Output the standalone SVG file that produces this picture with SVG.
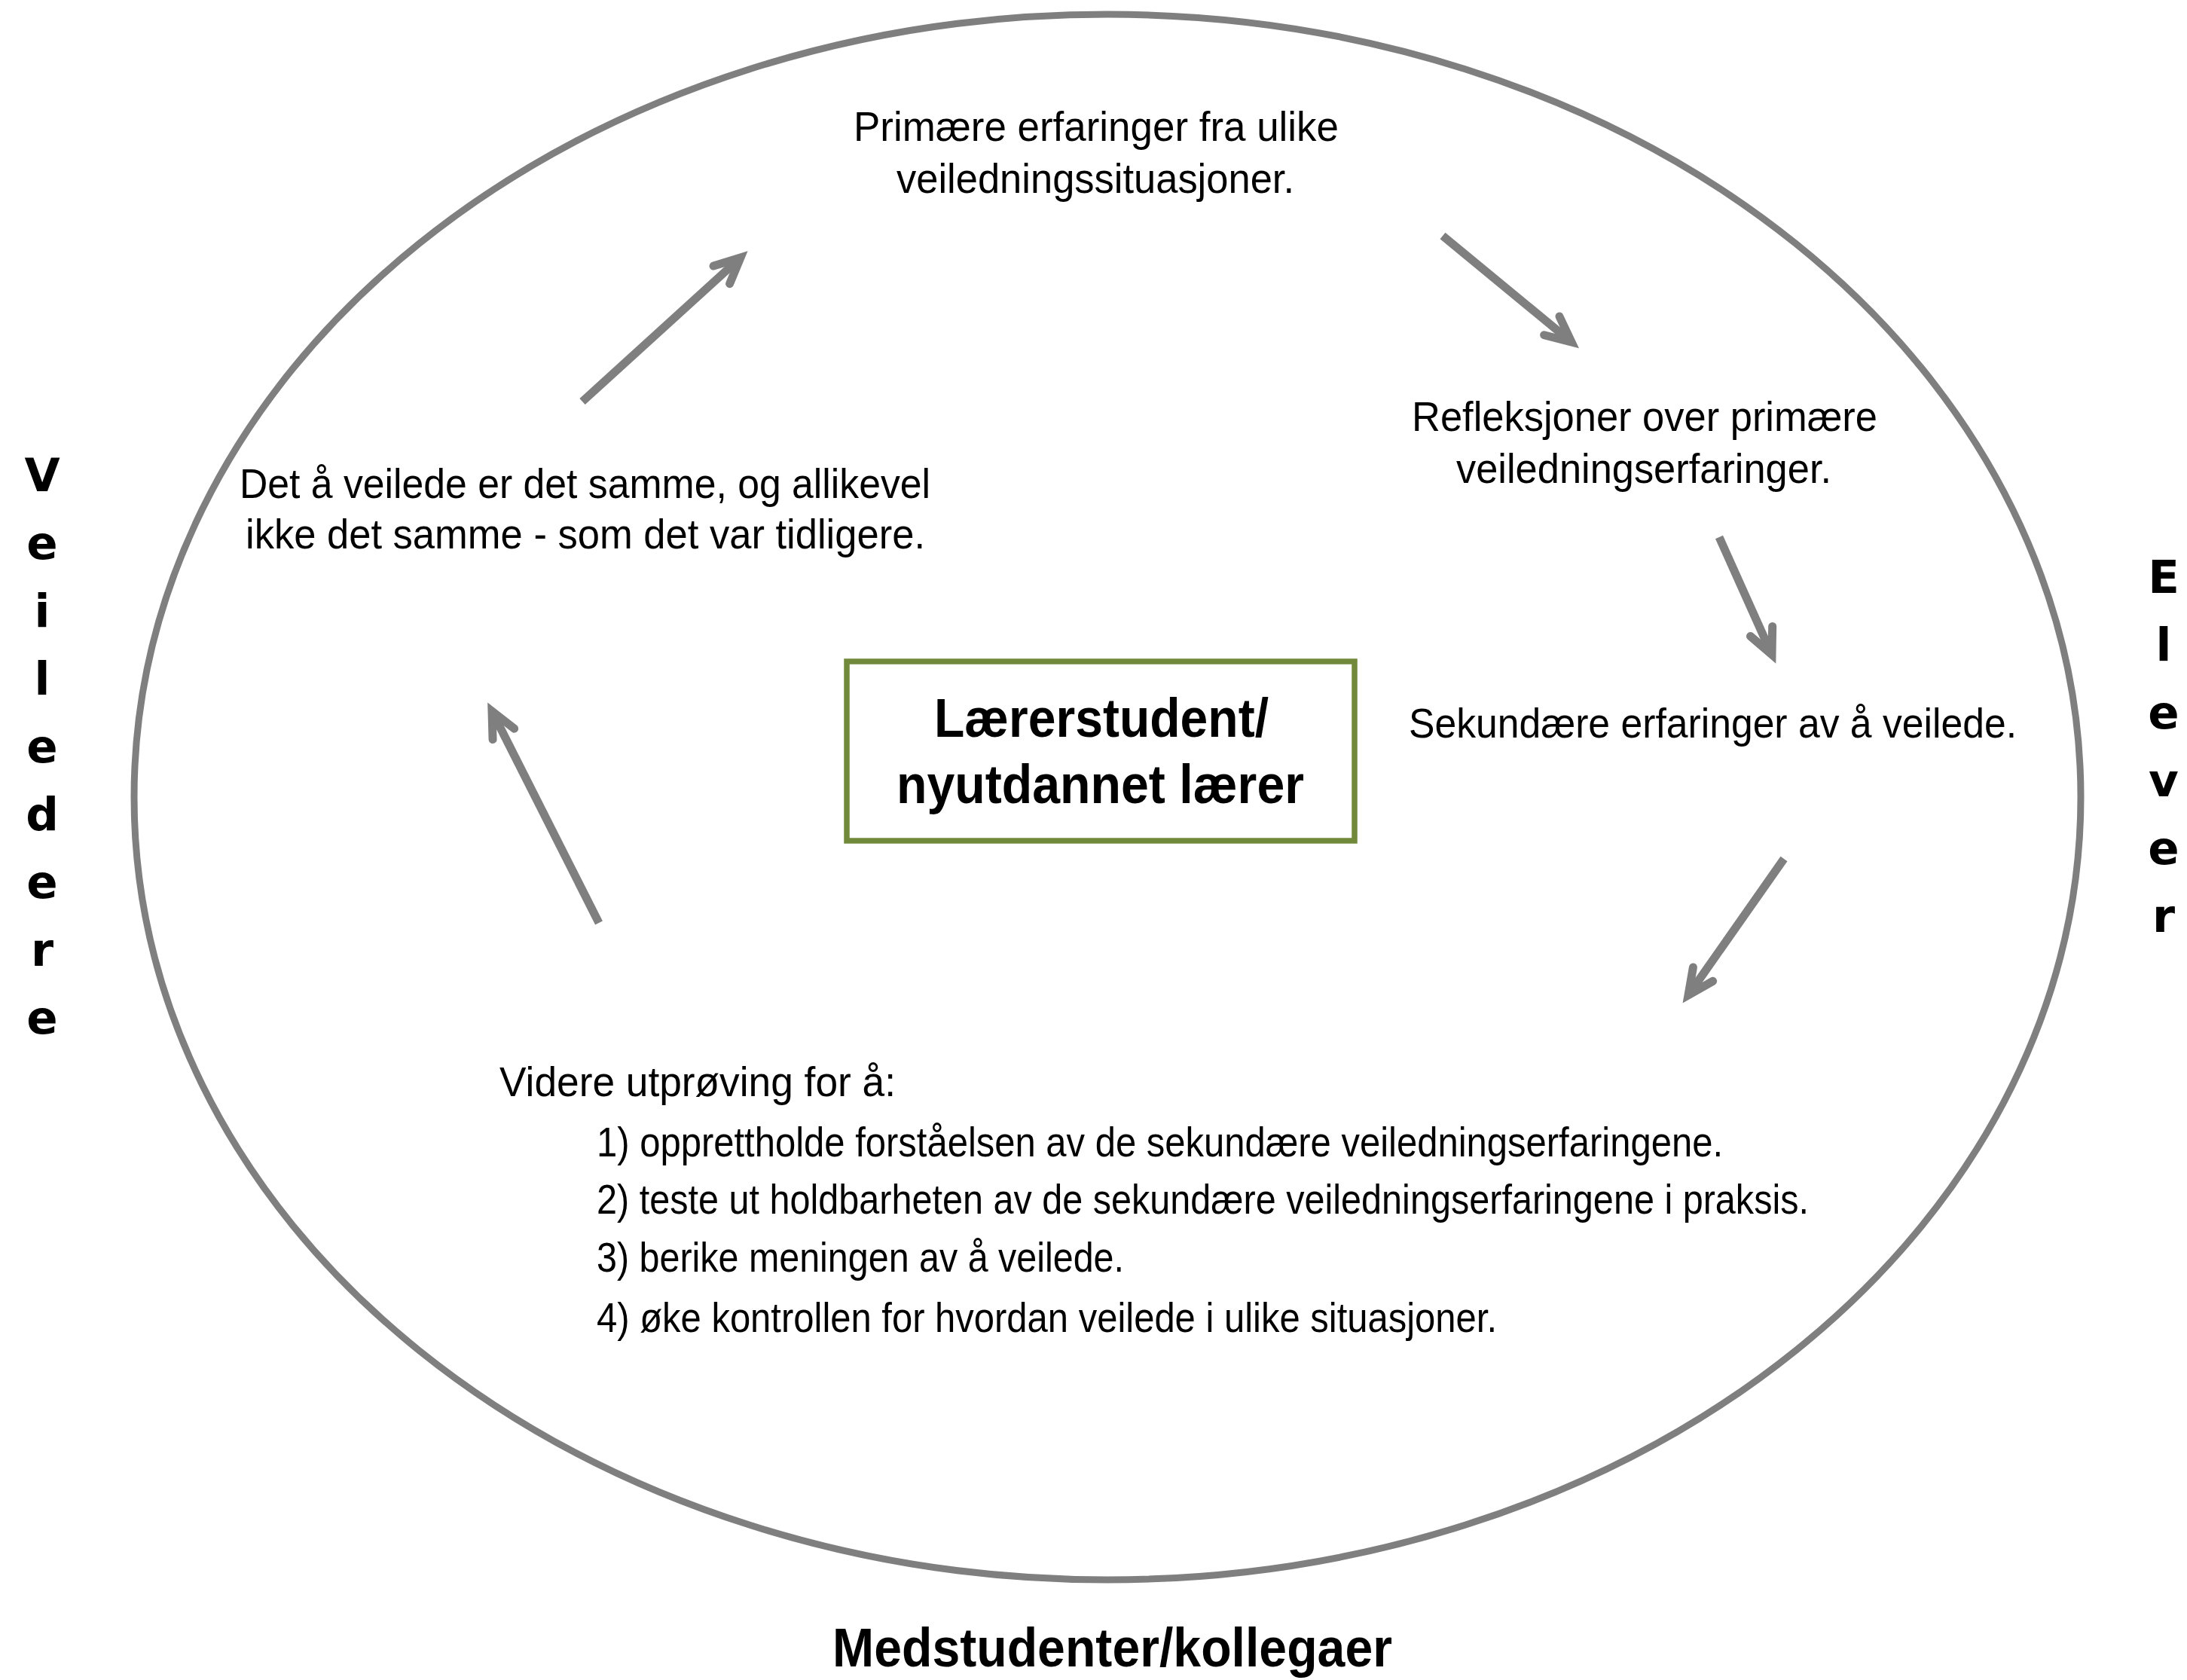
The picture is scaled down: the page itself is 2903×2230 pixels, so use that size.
<svg xmlns="http://www.w3.org/2000/svg" width="2903" height="2230" viewBox="0 0 2903 2230">
  <defs>
    <style>
      .body { font-family: "Liberation Sans", Arial, sans-serif; font-size: 55px; fill: #000; }
      .bold { font-family: "Liberation Sans", Arial, sans-serif; font-size: 73px; font-weight: bold; fill: #000; }
      .side { font-family: "DejaVu Sans", "Liberation Sans", sans-serif; font-size: 61px; font-weight: bold; fill: #000; text-anchor: middle; }
      .ring { fill: none; stroke: #7f7f7f; stroke-width: 9; }
      .box { fill: #fff; stroke: #71893a; stroke-width: 7.5; }
      .arrow { fill: none; stroke: #7f7f7f; stroke-width: 11; stroke-linecap: butt; marker-end: url(#head); }
    </style>
    <marker id="head" markerUnits="userSpaceOnUse" orient="auto" refX="0" refY="0" markerWidth="80" markerHeight="80" viewBox="-45 -40 80 80" overflow="visible">
      <path d="M -34,-16 L 0,0 L -34,16" fill="none" stroke="#7f7f7f" stroke-width="11" stroke-linecap="round" stroke-linejoin="miter"/>
    </marker>
  </defs>

  <rect width="2903" height="2230" fill="#fff"/>

  <!-- surrounding context ring -->
  <g id="context">
    <ellipse class="ring" cx="1470" cy="1058" rx="1292" ry="1039"/>
  </g>

  <!-- side and bottom labels -->
  <g id="veiledere">
    <text class="side" x="56" y="652">V</text>
    <text class="side" x="56" y="742">e</text>
    <text class="side" x="56" y="832">i</text>
    <text class="side" x="56" y="922">l</text>
    <text class="side" x="56" y="1012">e</text>
    <text class="side" x="56" y="1102">d</text>
    <text class="side" x="56" y="1192">e</text>
    <text class="side" x="56" y="1282">r</text>
    <text class="side" x="56" y="1372">e</text>
  </g>
  <g id="elever">
    <text class="side" x="2872" y="787">E</text>
    <text class="side" x="2872" y="877">l</text>
    <text class="side" x="2872" y="967">e</text>
    <text class="side" x="2872" y="1057">v</text>
    <text class="side" x="2872" y="1147">e</text>
    <text class="side" x="2872" y="1237">r</text>
  </g>
  <g id="medstudenter">
    <text class="bold" x="1105" y="2212" textLength="743" lengthAdjust="spacingAndGlyphs">Medstudenter/kollegaer</text>
  </g>

  <!-- centre node -->
  <g id="laererstudent">
    <rect class="box" x="1124" y="878" width="674" height="238"/>
    <text class="bold" x="1240" y="978" textLength="444" lengthAdjust="spacingAndGlyphs">Lærerstudent/</text>
    <text class="bold" x="1190" y="1066" textLength="541" lengthAdjust="spacingAndGlyphs">nyutdannet lærer</text>
  </g>

  <!-- cycle stages -->
  <g id="primaere">
    <text class="body" x="1133" y="187" textLength="644" lengthAdjust="spacingAndGlyphs">Primære erfaringer fra ulike</text>
    <text class="body" x="1190" y="256" textLength="528" lengthAdjust="spacingAndGlyphs">veiledningssituasjoner.</text>
  </g>
  <g id="refleksjoner">
    <text class="body" x="1874" y="572" textLength="618" lengthAdjust="spacingAndGlyphs">Refleksjoner over primære</text>
    <text class="body" x="1933" y="641" textLength="498" lengthAdjust="spacingAndGlyphs">veiledningserfaringer.</text>
  </g>
  <g id="sekundaere">
    <text class="body" x="1870" y="979" textLength="807" lengthAdjust="spacingAndGlyphs">Sekundære erfaringer av å veilede.</text>
  </g>
  <g id="utproving">
    <text class="body" x="663" y="1455" textLength="526" lengthAdjust="spacingAndGlyphs">Videre utprøving for å:</text>
    <text class="body" x="792" y="1535" textLength="1495" lengthAdjust="spacingAndGlyphs">1) opprettholde forståelsen av de sekundære veiledningserfaringene.</text>
    <text class="body" x="792" y="1611" textLength="1609" lengthAdjust="spacingAndGlyphs">2) teste ut holdbarheten av de sekundære veiledningserfaringene i praksis.</text>
    <text class="body" x="792" y="1688" textLength="700" lengthAdjust="spacingAndGlyphs">3) berike meningen av å veilede.</text>
    <text class="body" x="792" y="1768" textLength="1195" lengthAdjust="spacingAndGlyphs">4) øke kontrollen for hvordan veilede i ulike situasjoner.</text>
  </g>
  <g id="samme">
    <text class="body" x="318" y="661" textLength="917" lengthAdjust="spacingAndGlyphs">Det å veilede er det samme, og allikevel</text>
    <text class="body" x="326" y="728" textLength="902" lengthAdjust="spacingAndGlyphs">ikke det samme - som det var tidligere.</text>
  </g>

  <!-- connectors between stages -->
  <g id="connectors">
    <line class="arrow" x1="773" y1="533" x2="983" y2="342"/>
    <line class="arrow" x1="1915" y1="313" x2="2086" y2="454"/>
    <line class="arrow" x1="2282" y1="713" x2="2352" y2="869"/>
    <line class="arrow" x1="2368" y1="1140" x2="2241" y2="1321"/>
    <line class="arrow" x1="795" y1="1225" x2="653" y2="944"/>
  </g>
</svg>
